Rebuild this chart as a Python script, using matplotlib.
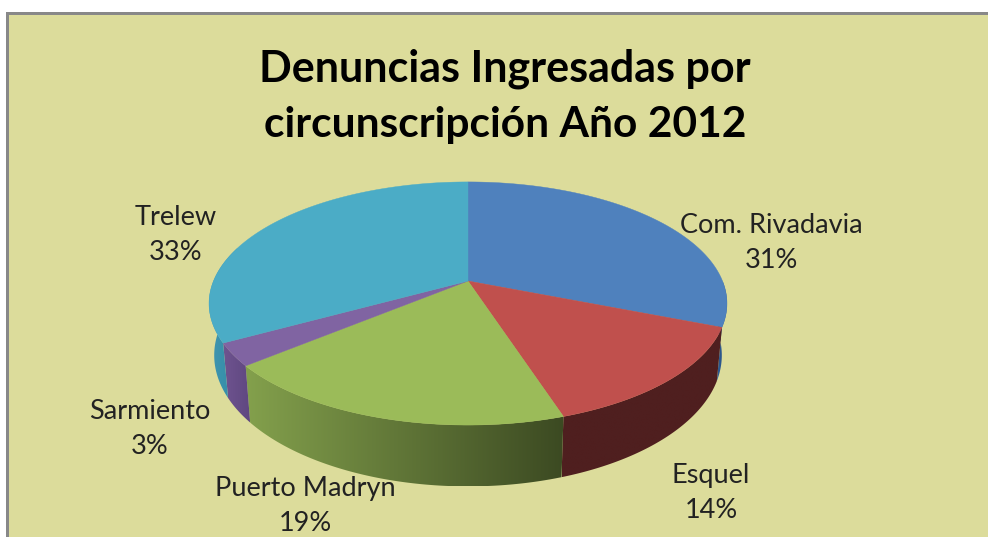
import numpy as np
import matplotlib
matplotlib.use("Agg")
import matplotlib.pyplot as plt
from matplotlib.colors import to_rgb
from matplotlib.patches import Polygon, Rectangle

# --- data ---
categories = ["Com. Rivadavia", "Esquel", "Puerto Madryn", "Sarmiento", "Trelew"]
percent = [31, 14, 19, 3, 33]
title_lines = ["Denuncias Ingresadas por", "circunscripción Año 2012"]

# --- style ---
top_colors = ["#4F81BD", "#C0504D", "#9BBB59", "#8064A2", "#4BACC6"]
wall_left = ["#2E5D96", "#4F1F1F", "#83A04C", "#6F5490", "#4096B0"]
wall_right = ["#24497A", "#4F1F1F", "#3C4A22", "#5F4780", "#2F8AA5"]
label_xy = [(771, 243), (711, 493), (305, 506), (150, 429), (176, 235)]
BG = "#DCDC9B"
W, H = 988, 537
CX, CY = 468, 281
R, A, K = 254.5, 117.4, 0.185
DEPTH, XS = 50, 0.98

plt.rcParams["font.family"] = ["Lato", "DejaVu Sans"]
fig = plt.figure(figsize=(W / 100, H / 100), dpi=100, facecolor="white")
ax = fig.add_axes([0, 0, 1, 1])
ax.axis("off")

ax.add_patch(Rectangle((6, 12), W, H, fc="#888888", ec="none", zorder=0))
ax.add_patch(Rectangle((9, 15), W, H, fc=BG, ec="none", zorder=1))


def top(theta):
    s, v = np.sin(theta), -np.cos(theta)
    w = 1 - K * v
    return CX + R * s / w, CY + A * v / w


def bottom(theta):
    x, y = top(theta)
    w = 1 + K * np.cos(theta)
    return CX + (x - CX) * XS, y + DEPTH / w


edges = np.concatenate([[0], np.cumsum(percent)]) / sum(percent) * 2 * np.pi

# walls: one polygon per slice, filled by a horizontal gradient image
for i in range(len(percent)):
    a0, a1 = edges[i], edges[i + 1]
    a0v = max(a0, np.pi / 2) if a0 < np.pi else a0
    a1v = min(a1, 3 * np.pi / 2 + 0.3)
    if a1v <= a0v:
        continue
    ts = np.linspace(a0v, a1v, 200)
    xt, yt = top(ts)
    xb, yb = bottom(ts)
    pts = np.column_stack([np.r_[xt, xb[::-1]], np.r_[yt, yb[::-1]]])
    poly = Polygon(pts, fc="none", ec="none", transform=ax.transData)
    ax.add_patch(poly)
    c0, c1 = np.array(to_rgb(wall_left[i])), np.array(to_rgb(wall_right[i]))
    grad = np.linspace(0, 1, 128)[None, :, None]
    img = c0[None, None, :] + (c1 - c0)[None, None, :] * grad
    xmin, xmax = pts[:, 0].min(), pts[:, 0].max()
    ymin, ymax = pts[:, 1].min(), pts[:, 1].max()
    im = ax.imshow(img, extent=(xmin, xmax, ymax, ymin), aspect="auto",
                   interpolation="bilinear", zorder=3)
    im.set_clip_path(poly)

ax.set_xlim(0, W)
ax.set_ylim(H, 0)

# top face
for i in range(len(percent)):
    ts = np.linspace(edges[i], edges[i + 1], 200)
    xs, ys = top(ts)
    pts = np.column_stack([np.r_[CX, xs], np.r_[CY, ys]])
    ax.add_patch(Polygon(pts, fc=top_colors[i], ec=top_colors[i], lw=0.3, zorder=4))

# labels
for name, p, (lx, ly) in zip(categories, percent, label_xy):
    ax.text(lx, ly, f"{name}\n{p}%", ha="center", va="center", fontsize=19.5,
            color="#222222", linespacing=1.5, zorder=6)

ax.text(505, 69, title_lines[0], ha="center", va="center", fontsize=31,
        fontweight="bold", color="black", zorder=6)
ax.text(505, 125, title_lines[1], ha="center", va="center", fontsize=30.6,
        fontweight="bold", color="black", zorder=6)

fig.savefig("out.png", dpi=100, facecolor="white")
